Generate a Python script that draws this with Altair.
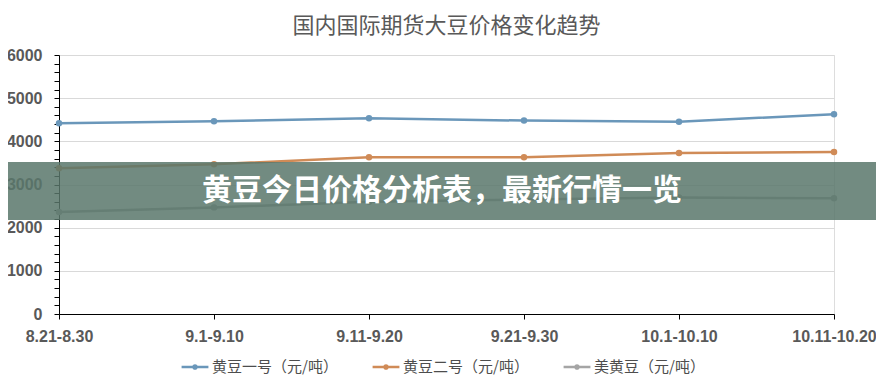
import altair as alt
import pandas as pd

periods = ["8.21-8.30", "9.1-9.10", "9.11-9.20", "9.21-9.30", "10.1-10.10", "10.11-10.20"]
series_names = ["黄豆一号（元/吨）", "黄豆二号（元/吨）", "美黄豆（元/吨）"]
soy1 = [4420, 4465, 4535, 4480, 4455, 4630]
soy2 = [3375, 3470, 3630, 3630, 3730, 3755]
us_soy = [2365, 2470, 2600, 2650, 2700, 2680]
series_colors = ["#6a97ba", "#d08b57", "#a5a5a5"]
title_text = "国内国际期货大豆价格变化趋势"
banner_text = "黄豆今日价格分析表，最新行情一览"

rows = []
for name, vals in zip(series_names, [soy1, soy2, us_soy]):
    for p, v in zip(periods, vals):
        rows.append({"period": p, "series": name, "value": v})
df = pd.DataFrame(rows)

W, H = 775, 259
FONT_CJK = "Noto Sans CJK SC"
FONT_NUM = "Liberation Sans"

x_enc = alt.X(
    "period:N",
    sort=periods,
    scale=alt.Scale(type="point", padding=0),
    axis=alt.Axis(
        title=None,
        labelAngle=0,
        labelFont=FONT_NUM,
        labelFontSize=16,
        labelFontWeight="bold",
        labelColor="#595959",
        labelPadding=9,
        domainColor="#000000",
        tickColor="#000000",
        tickSize=5,
        grid=False,
    ),
)
y_enc = alt.Y(
    "value:Q",
    scale=alt.Scale(domain=[0, 6000], nice=False),
    axis=alt.Axis(
        title=None,
        values=list(range(0, 6001, 200)),
        labelExpr="datum.value % 1000 === 0 ? datum.value : ''",
        labelFont=FONT_NUM,
        labelFontSize=16,
        labelFontWeight="bold",
        labelColor="#595959",
        labelPadding=12,
        domainColor="#000000",
        tickColor="#000000",
        tickSize=5,
        grid=True,
        gridColor="#d9d9d9",
        gridOpacity={"condition": {"test": "datum.value % 1000 === 0 && datum.value > 0", "value": 1}, "value": 0},
    ),
)

legend = alt.Legend(
    title=None,
    orient="none",
    legendX=121,
    legendY=297,
    padding=0,
    direction="horizontal",
    symbolType="M-1,0L1,0M-0.12,0a0.12,0.12 0 1,0 0.24,0a0.12,0.12 0 1,0 -0.24,0",
    symbolSize=720,
    symbolStrokeWidth=2.5,
    labelFont=FONT_CJK,
    labelFontSize=15,
    labelColor="#4d4d4d",
    labelLimit=300,
    labelOffset=2,
    columnPadding=29,
)
color_enc = alt.Color(
    "series:N",
    sort=series_names,
    scale=alt.Scale(domain=series_names, range=series_colors),
    legend=legend,
)

base = alt.Chart(df).encode(x=x_enc, y=y_enc, color=color_enc)
lines = base.mark_line(strokeWidth=2.5)
points = base.mark_point(filled=True, size=42, opacity=1)

band_df = pd.DataFrame({"label": [banner_text]})
band = alt.Chart(band_df).mark_rect(color="#59776b", opacity=0.85).encode(
    x=alt.value(-51), x2=alt.value(W + 42), y=alt.value(107), y2=alt.value(165)
)
banner = alt.Chart(band_df).mark_text(
    color="#ffffff", font=FONT_CJK, fontSize=30, fontWeight="bold", align="center", baseline="middle"
).encode(x=alt.value(383), y=alt.value(136), text="label:N")

chart = (
    alt.layer(lines, points, band, banner)
    .properties(
        width=W,
        height=H,
        autosize=alt.AutoSizeParams(type="none"),
        padding={"left": 51, "top": 47, "right": 42, "bottom": 61},
        title=alt.TitleParams(
            title_text,
            font=FONT_CJK,
            fontSize=22,
            fontWeight="normal",
            color="#595959",
            anchor="middle",
            offset=9,
        ),
    )
    .configure_view(stroke=None)
    .configure(background="#ffffff")
)

chart.save("out.html", embed_options={"renderer": "svg", "actions": False})
